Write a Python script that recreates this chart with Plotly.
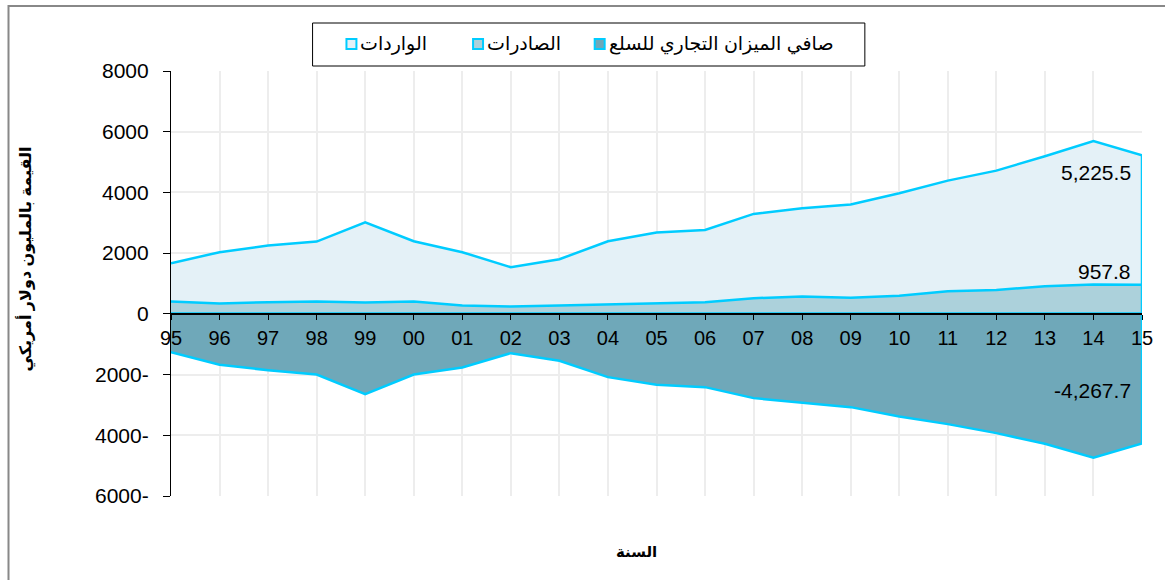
import plotly.graph_objects as go

# ---------------- data ----------------
years = ["95", "96", "97", "98", "99", "00", "01", "02", "03", "04", "05",
         "06", "07", "08", "09", "10", "11", "12", "13", "14", "15"]
imports = [1669, 2031, 2250, 2381, 3018, 2392, 2031, 1536, 1799, 2392, 2677,
           2765, 3292, 3479, 3600, 3973, 4389, 4718, 5191, 5695, 5225.5]
exports = [406, 340, 384, 406, 373, 406, 274, 241, 274, 318, 351,
           384, 516, 571, 527, 593, 746, 790, 911, 966, 957.8]
net_balance = [-1262, -1679, -1855, -1997, -2645, -1997, -1767, -1295, -1547, -2085, -2337,
               -2414, -2776, -2920, -3073, -3380, -3632, -3929, -4280, -4741, -4267.7]

name_imports = "الواردات"
name_exports = "الصادرات"
name_net = "صافي الميزان التجاري للسلع"
y_title = "القيمة بالمليون دولار أمريكي"
x_title = "السنة"

y_min, y_max, y_step = -6000, 8000, 2000
y_ticks = list(range(y_min, y_max + 1, y_step))
y_ticktext = [f"{abs(v)}-" if v < 0 else f"{v}" for v in y_ticks]

# ---------------- style ----------------
W, H = 1165, 580
L, R, T, B = 171, 1145, 71, 496          # plot area in pixels
LINE = "rgb(0,204,255)"
FILL_IMP = "rgb(228,241,247)"
FILL_EXP = "rgb(172,209,219)"
FILL_NET = "rgb(111,168,185)"
GRID = "rgb(237,237,237)"
FONT = "Arial, 'Liberation Sans', 'DejaVu Sans', sans-serif"


def pxx(p):
    return (p - L) / (R - L)


def pxy(p):
    return (B - p) / (B - T)


xs = list(range(len(years)))

fig = go.Figure()
for vals, fill in [(imports, FILL_IMP), (exports, FILL_EXP), (net_balance, FILL_NET)]:
    fig.add_trace(go.Scatter(
        x=xs + [xs[-1], xs[0]],
        y=vals + [0, 0],
        mode="lines",
        fill="toself",
        fillcolor=fill,
        line=dict(color=LINE, width=2.5),
        hoverinfo="skip",
        showlegend=False,
    ))

# end-of-series value labels
for vals, yshift in [(imports, -17), (exports, 13), (net_balance, 53)]:
    v = vals[-1]
    fig.add_annotation(x=xs[-1], y=v, xref="x", yref="y",
                       text=f"{v:,.1f}", showarrow=False,
                       xanchor="right", yanchor="middle",
                       xshift=-9, yshift=yshift,
                       font=dict(size=21, color="black", family=FONT))

zero_pos = (0 - y_min) / (y_max - y_min)

fig.update_layout(
    width=W, height=H,
    margin=dict(l=L, r=W - R, t=T, b=H - B, pad=0),
    paper_bgcolor="white", plot_bgcolor="white",
    font=dict(family=FONT, color="black"),
    showlegend=False,
    xaxis=dict(
        range=[xs[0], xs[-1]],
        tickmode="array", tickvals=xs, ticktext=years,
        anchor="free", position=zero_pos,
        showgrid=True, gridcolor=GRID, gridwidth=2,
        showline=True, linecolor="black", linewidth=1.5,
        ticks="outside", ticklen=5, tickcolor="black", tickwidth=1,
        ticklabelstandoff=1,
        tickfont=dict(size=20, color="black"),
        zeroline=False, layer="above traces",
    ),
    yaxis=dict(
        range=[y_min, y_max],
        tickmode="array", tickvals=y_ticks, ticktext=y_ticktext,
        showgrid=True, gridcolor=GRID, gridwidth=2,
        showline=True, linecolor="black", linewidth=1.25,
        ticks="outside", ticklen=7, tickcolor="black",
        ticklabelstandoff=10,
        tickfont=dict(size=21, color="black"),
        zeroline=False,
    ),
)

# axis titles
fig.add_annotation(xref="paper", yref="paper", x=pxx(25), y=pxy(259),
                   text=f"<b>{y_title}</b>", textangle=-90, showarrow=False,
                   xanchor="center", yanchor="middle",
                   font=dict(size=16, color="black", family=FONT))
fig.add_annotation(xref="paper", yref="paper", x=pxx(638), y=pxy(551),
                   text=f"<b>{x_title}</b>", showarrow=False,
                   xanchor="center", yanchor="middle",
                   font=dict(size=15, color="black", family=FONT))

shapes = []
# outer chart border
shapes.append(dict(type="rect", xref="paper", yref="paper",
                   x0=pxx(8), x1=pxx(1200), y0=pxy(620), y1=pxy(6),
                   line=dict(color="rgb(136,136,136)", width=2), fillcolor="rgba(0,0,0,0)"))
# legend box
shapes.append(dict(type="rect", xref="paper", yref="paper",
                   x0=pxx(313), x1=pxx(867), y0=pxy(66), y1=pxy(23),
                   line=dict(color="black", width=1), fillcolor="white"))
legend_items = [(name_imports, FILL_IMP, 352),
                (name_exports, FILL_EXP, 479),
                (name_net, FILL_NET, 601)]
for name, fill, mx in legend_items:
    shapes.append(dict(type="rect", xref="paper", yref="paper",
                       x0=pxx(mx - 5), x1=pxx(mx + 5), y0=pxy(49), y1=pxy(39),
                       line=dict(color=LINE, width=2), fillcolor=fill))
    fig.add_annotation(xref="paper", yref="paper", x=pxx(mx + 7), y=pxy(44),
                       text=name, showarrow=False, xanchor="left", yanchor="middle",
                       font=dict(size=19, color="black", family=FONT))
fig.update_layout(shapes=shapes)

fig.write_html("out.html", config={"displayModeBar": False},
               post_script="document.body.style.margin='0';")
